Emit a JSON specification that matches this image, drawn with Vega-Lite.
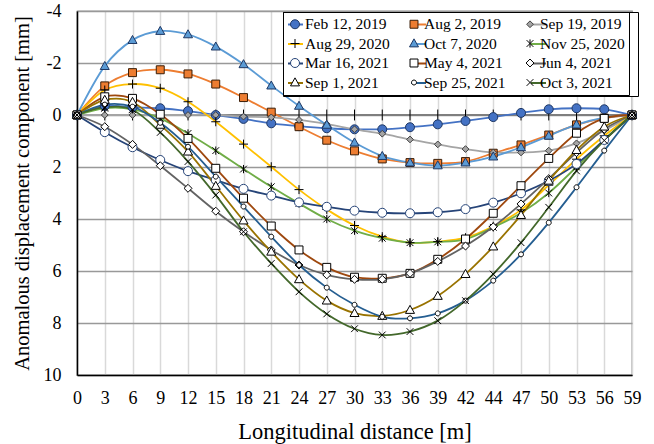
{
  "$schema": "https://vega.github.io/schema/vega-lite/v6.json",
  "width": 555,
  "height": 364,
  "autosize": {"type": "none"},
  "padding": {"left": 77, "top": 11, "right": 22, "bottom": 69},
  "background": "white",
  "config": {
    "view": {"stroke": "#404040", "strokeWidth": 1.2},
    "font": "Liberation Serif",
    "axis": {"labelFont": "Liberation Serif", "titleFont": "Liberation Serif"},
    "legend": {"labelFont": "Liberation Serif", "titleFont": "Liberation Serif"}
  },
  "datasets": {
    "d": [
      {"s":"Feb 12, 2019","x":0,"y":0},{"s":"Feb 12, 2019","x":3,"y":-0.35},{"s":"Feb 12, 2019","x":6,"y":-0.3},{"s":"Feb 12, 2019","x":9,"y":-0.26},{"s":"Feb 12, 2019","x":12,"y":-0.15},{"s":"Feb 12, 2019","x":15,"y":0},{"s":"Feb 12, 2019","x":18,"y":0.15},{"s":"Feb 12, 2019","x":21,"y":0.32},{"s":"Feb 12, 2019","x":24,"y":0.43},{"s":"Feb 12, 2019","x":27,"y":0.51},{"s":"Feb 12, 2019","x":30,"y":0.55},{"s":"Feb 12, 2019","x":33,"y":0.55},{"s":"Feb 12, 2019","x":36,"y":0.47},{"s":"Feb 12, 2019","x":39,"y":0.36},{"s":"Feb 12, 2019","x":42,"y":0.23},{"s":"Feb 12, 2019","x":44,"y":0.08},{"s":"Feb 12, 2019","x":47,"y":-0.08},{"s":"Feb 12, 2019","x":50,"y":-0.22},{"s":"Feb 12, 2019","x":53,"y":-0.26},{"s":"Feb 12, 2019","x":56,"y":-0.22},{"s":"Feb 12, 2019","x":59,"y":0},
      {"s":"Aug 2, 2019","x":0,"y":0},{"s":"Aug 2, 2019","x":3,"y":-1.12},{"s":"Aug 2, 2019","x":6,"y":-1.63},{"s":"Aug 2, 2019","x":9,"y":-1.74},{"s":"Aug 2, 2019","x":12,"y":-1.58},{"s":"Aug 2, 2019","x":15,"y":-1.19},{"s":"Aug 2, 2019","x":18,"y":-0.67},{"s":"Aug 2, 2019","x":21,"y":-0.11},{"s":"Aug 2, 2019","x":24,"y":0.45},{"s":"Aug 2, 2019","x":27,"y":0.97},{"s":"Aug 2, 2019","x":30,"y":1.38},{"s":"Aug 2, 2019","x":33,"y":1.69},{"s":"Aug 2, 2019","x":36,"y":1.83},{"s":"Aug 2, 2019","x":39,"y":1.86},{"s":"Aug 2, 2019","x":42,"y":1.79},{"s":"Aug 2, 2019","x":44,"y":1.47},{"s":"Aug 2, 2019","x":47,"y":1.15},{"s":"Aug 2, 2019","x":50,"y":0.77},{"s":"Aug 2, 2019","x":53,"y":0.38},{"s":"Aug 2, 2019","x":56,"y":0.12},{"s":"Aug 2, 2019","x":59,"y":0},
      {"s":"Sep 19, 2019","x":0,"y":0},{"s":"Sep 19, 2019","x":3,"y":0},{"s":"Sep 19, 2019","x":6,"y":0},{"s":"Sep 19, 2019","x":9,"y":0},{"s":"Sep 19, 2019","x":12,"y":0},{"s":"Sep 19, 2019","x":15,"y":0},{"s":"Sep 19, 2019","x":18,"y":0.06},{"s":"Sep 19, 2019","x":21,"y":0.09},{"s":"Sep 19, 2019","x":24,"y":0.19},{"s":"Sep 19, 2019","x":27,"y":0.35},{"s":"Sep 19, 2019","x":30,"y":0.55},{"s":"Sep 19, 2019","x":33,"y":0.72},{"s":"Sep 19, 2019","x":36,"y":0.94},{"s":"Sep 19, 2019","x":39,"y":1.13},{"s":"Sep 19, 2019","x":42,"y":1.31},{"s":"Sep 19, 2019","x":44,"y":1.44},{"s":"Sep 19, 2019","x":47,"y":1.44},{"s":"Sep 19, 2019","x":50,"y":1.37},{"s":"Sep 19, 2019","x":53,"y":1.09},{"s":"Sep 19, 2019","x":56,"y":0.6},{"s":"Sep 19, 2019","x":59,"y":0},
      {"s":"Aug 29, 2020","x":0,"y":0},{"s":"Aug 29, 2020","x":3,"y":-0.96},{"s":"Aug 29, 2020","x":6,"y":-1.19},{"s":"Aug 29, 2020","x":9,"y":-1.03},{"s":"Aug 29, 2020","x":12,"y":-0.51},{"s":"Aug 29, 2020","x":15,"y":0.26},{"s":"Aug 29, 2020","x":18,"y":1.12},{"s":"Aug 29, 2020","x":21,"y":1.99},{"s":"Aug 29, 2020","x":24,"y":2.87},{"s":"Aug 29, 2020","x":27,"y":3.63},{"s":"Aug 29, 2020","x":30,"y":4.25},{"s":"Aug 29, 2020","x":33,"y":4.68},{"s":"Aug 29, 2020","x":36,"y":4.91},{"s":"Aug 29, 2020","x":39,"y":4.87},{"s":"Aug 29, 2020","x":42,"y":4.72},{"s":"Aug 29, 2020","x":44,"y":4.28},{"s":"Aug 29, 2020","x":47,"y":3.65},{"s":"Aug 29, 2020","x":50,"y":2.7},{"s":"Aug 29, 2020","x":53,"y":1.7},{"s":"Aug 29, 2020","x":56,"y":0.8},{"s":"Aug 29, 2020","x":59,"y":0},
      {"s":"Oct 7, 2020","x":0,"y":0},{"s":"Oct 7, 2020","x":3,"y":-1.88},{"s":"Oct 7, 2020","x":6,"y":-2.88},{"s":"Oct 7, 2020","x":9,"y":-3.23},{"s":"Oct 7, 2020","x":12,"y":-3.1},{"s":"Oct 7, 2020","x":15,"y":-2.63},{"s":"Oct 7, 2020","x":18,"y":-1.95},{"s":"Oct 7, 2020","x":21,"y":-1.13},{"s":"Oct 7, 2020","x":24,"y":-0.35},{"s":"Oct 7, 2020","x":27,"y":0.38},{"s":"Oct 7, 2020","x":30,"y":1.06},{"s":"Oct 7, 2020","x":33,"y":1.58},{"s":"Oct 7, 2020","x":36,"y":1.83},{"s":"Oct 7, 2020","x":39,"y":1.94},{"s":"Oct 7, 2020","x":42,"y":1.83},{"s":"Oct 7, 2020","x":44,"y":1.6},{"s":"Oct 7, 2020","x":47,"y":1.24},{"s":"Oct 7, 2020","x":50,"y":0.8},{"s":"Oct 7, 2020","x":53,"y":0.37},{"s":"Oct 7, 2020","x":56,"y":0.1},{"s":"Oct 7, 2020","x":59,"y":0},
      {"s":"Nov 25, 2020","x":0,"y":0},{"s":"Nov 25, 2020","x":3,"y":-0.26},{"s":"Nov 25, 2020","x":6,"y":-0.22},{"s":"Nov 25, 2020","x":9,"y":0.13},{"s":"Nov 25, 2020","x":12,"y":0.71},{"s":"Nov 25, 2020","x":15,"y":1.37},{"s":"Nov 25, 2020","x":18,"y":2.08},{"s":"Nov 25, 2020","x":21,"y":2.76},{"s":"Nov 25, 2020","x":24,"y":3.4},{"s":"Nov 25, 2020","x":27,"y":4.0},{"s":"Nov 25, 2020","x":30,"y":4.45},{"s":"Nov 25, 2020","x":33,"y":4.74},{"s":"Nov 25, 2020","x":36,"y":4.91},{"s":"Nov 25, 2020","x":39,"y":4.88},{"s":"Nov 25, 2020","x":42,"y":4.78},{"s":"Nov 25, 2020","x":44,"y":4.32},{"s":"Nov 25, 2020","x":47,"y":3.77},{"s":"Nov 25, 2020","x":50,"y":3.0},{"s":"Nov 25, 2020","x":53,"y":2.0},{"s":"Nov 25, 2020","x":56,"y":0.95},{"s":"Nov 25, 2020","x":59,"y":0},
      {"s":"Mar 16, 2021","x":0,"y":0},{"s":"Mar 16, 2021","x":3,"y":0.66},{"s":"Mar 16, 2021","x":6,"y":1.24},{"s":"Mar 16, 2021","x":9,"y":1.73},{"s":"Mar 16, 2021","x":12,"y":2.16},{"s":"Mar 16, 2021","x":15,"y":2.5},{"s":"Mar 16, 2021","x":18,"y":2.84},{"s":"Mar 16, 2021","x":21,"y":3.1},{"s":"Mar 16, 2021","x":24,"y":3.36},{"s":"Mar 16, 2021","x":27,"y":3.53},{"s":"Mar 16, 2021","x":30,"y":3.68},{"s":"Mar 16, 2021","x":33,"y":3.76},{"s":"Mar 16, 2021","x":36,"y":3.78},{"s":"Mar 16, 2021","x":39,"y":3.74},{"s":"Mar 16, 2021","x":42,"y":3.62},{"s":"Mar 16, 2021","x":44,"y":3.37},{"s":"Mar 16, 2021","x":47,"y":3.01},{"s":"Mar 16, 2021","x":50,"y":2.53},{"s":"Mar 16, 2021","x":53,"y":1.88},{"s":"Mar 16, 2021","x":56,"y":0.96},{"s":"Mar 16, 2021","x":59,"y":0},
      {"s":"May 4, 2021","x":0,"y":0},{"s":"May 4, 2021","x":3,"y":-0.7},{"s":"May 4, 2021","x":6,"y":-0.64},{"s":"May 4, 2021","x":9,"y":-0.03},{"s":"May 4, 2021","x":12,"y":0.9},{"s":"May 4, 2021","x":15,"y":2.05},{"s":"May 4, 2021","x":18,"y":3.2},{"s":"May 4, 2021","x":21,"y":4.27},{"s":"May 4, 2021","x":24,"y":5.19},{"s":"May 4, 2021","x":27,"y":5.86},{"s":"May 4, 2021","x":30,"y":6.24},{"s":"May 4, 2021","x":33,"y":6.28},{"s":"May 4, 2021","x":36,"y":6.09},{"s":"May 4, 2021","x":39,"y":5.55},{"s":"May 4, 2021","x":42,"y":4.77},{"s":"May 4, 2021","x":44,"y":3.78},{"s":"May 4, 2021","x":47,"y":2.72},{"s":"May 4, 2021","x":50,"y":1.67},{"s":"May 4, 2021","x":53,"y":0.7},{"s":"May 4, 2021","x":56,"y":0.13},{"s":"May 4, 2021","x":59,"y":0},
      {"s":"Jun 4, 2021","x":0,"y":0},{"s":"Jun 4, 2021","x":3,"y":0.45},{"s":"Jun 4, 2021","x":6,"y":1.13},{"s":"Jun 4, 2021","x":9,"y":1.95},{"s":"Jun 4, 2021","x":12,"y":2.82},{"s":"Jun 4, 2021","x":15,"y":3.7},{"s":"Jun 4, 2021","x":18,"y":4.49},{"s":"Jun 4, 2021","x":21,"y":5.19},{"s":"Jun 4, 2021","x":24,"y":5.77},{"s":"Jun 4, 2021","x":27,"y":6.15},{"s":"Jun 4, 2021","x":30,"y":6.32},{"s":"Jun 4, 2021","x":33,"y":6.32},{"s":"Jun 4, 2021","x":36,"y":6.09},{"s":"Jun 4, 2021","x":39,"y":5.63},{"s":"Jun 4, 2021","x":42,"y":5.04},{"s":"Jun 4, 2021","x":44,"y":4.3},{"s":"Jun 4, 2021","x":47,"y":3.42},{"s":"Jun 4, 2021","x":50,"y":2.45},{"s":"Jun 4, 2021","x":53,"y":1.45},{"s":"Jun 4, 2021","x":56,"y":0.55},{"s":"Jun 4, 2021","x":59,"y":0},
      {"s":"Sep 1, 2021","x":0,"y":0},{"s":"Sep 1, 2021","x":3,"y":-0.58},{"s":"Sep 1, 2021","x":6,"y":-0.5},{"s":"Sep 1, 2021","x":9,"y":0.38},{"s":"Sep 1, 2021","x":12,"y":1.41},{"s":"Sep 1, 2021","x":15,"y":2.73},{"s":"Sep 1, 2021","x":18,"y":4.06},{"s":"Sep 1, 2021","x":21,"y":5.26},{"s":"Sep 1, 2021","x":24,"y":6.32},{"s":"Sep 1, 2021","x":27,"y":7.14},{"s":"Sep 1, 2021","x":30,"y":7.62},{"s":"Sep 1, 2021","x":33,"y":7.73},{"s":"Sep 1, 2021","x":36,"y":7.5},{"s":"Sep 1, 2021","x":39,"y":6.96},{"s":"Sep 1, 2021","x":42,"y":6.12},{"s":"Sep 1, 2021","x":44,"y":5.06},{"s":"Sep 1, 2021","x":47,"y":3.85},{"s":"Sep 1, 2021","x":50,"y":2.53},{"s":"Sep 1, 2021","x":53,"y":1.35},{"s":"Sep 1, 2021","x":56,"y":0.45},{"s":"Sep 1, 2021","x":59,"y":0},
      {"s":"Sep 25, 2021","x":0,"y":0},{"s":"Sep 25, 2021","x":3,"y":-0.4},{"s":"Sep 25, 2021","x":6,"y":-0.32},{"s":"Sep 25, 2021","x":9,"y":0.3},{"s":"Sep 25, 2021","x":12,"y":1.22},{"s":"Sep 25, 2021","x":15,"y":2.37},{"s":"Sep 25, 2021","x":18,"y":3.52},{"s":"Sep 25, 2021","x":21,"y":4.68},{"s":"Sep 25, 2021","x":24,"y":5.77},{"s":"Sep 25, 2021","x":27,"y":6.64},{"s":"Sep 25, 2021","x":30,"y":7.3},{"s":"Sep 25, 2021","x":33,"y":7.76},{"s":"Sep 25, 2021","x":36,"y":7.82},{"s":"Sep 25, 2021","x":39,"y":7.63},{"s":"Sep 25, 2021","x":42,"y":7.14},{"s":"Sep 25, 2021","x":44,"y":6.37},{"s":"Sep 25, 2021","x":47,"y":5.36},{"s":"Sep 25, 2021","x":50,"y":4.14},{"s":"Sep 25, 2021","x":53,"y":2.78},{"s":"Sep 25, 2021","x":56,"y":1.37},{"s":"Sep 25, 2021","x":59,"y":0},
      {"s":"Oct 3, 2021","x":0,"y":0},{"s":"Oct 3, 2021","x":3,"y":-0.3},{"s":"Oct 3, 2021","x":6,"y":-0.2},{"s":"Oct 3, 2021","x":9,"y":0.67},{"s":"Oct 3, 2021","x":12,"y":1.79},{"s":"Oct 3, 2021","x":15,"y":3.08},{"s":"Oct 3, 2021","x":18,"y":4.49},{"s":"Oct 3, 2021","x":21,"y":5.71},{"s":"Oct 3, 2021","x":24,"y":6.8},{"s":"Oct 3, 2021","x":27,"y":7.65},{"s":"Oct 3, 2021","x":30,"y":8.22},{"s":"Oct 3, 2021","x":33,"y":8.46},{"s":"Oct 3, 2021","x":36,"y":8.33},{"s":"Oct 3, 2021","x":39,"y":7.91},{"s":"Oct 3, 2021","x":42,"y":7.14},{"s":"Oct 3, 2021","x":44,"y":6.12},{"s":"Oct 3, 2021","x":47,"y":4.91},{"s":"Oct 3, 2021","x":50,"y":3.55},{"s":"Oct 3, 2021","x":53,"y":2.15},{"s":"Oct 3, 2021","x":56,"y":0.98},{"s":"Oct 3, 2021","x":59,"y":0}
    ]
  },
  "data": {"name": "d"},
  "encoding": {
    "x": {
      "field": "x", "type": "ordinal",
      "scale": {"type": "point", "padding": 0},
      "axis": {
        "title": "Longitudinal distance [m]", "labelAngle": 0, "ticks": false,
        "domainColor": "#000000", "domainWidth": 1.5,
        "grid": true, "gridColor": "#d9d9d9", "gridWidth": 1.5,
        "labelFont": "Liberation Serif", "labelFontSize": 18, "labelColor": "#000000", "labelPadding": 14,
        "titleFont": "Liberation Serif", "titleFontSize": 22.5, "titleFontWeight": "normal", "titleColor": "#000000", "titlePadding": 13
      }
    },
    "y": {
      "field": "y", "type": "quantitative",
      "scale": {"domain": [-4, 10], "reverse": true, "nice": false},
      "axis": {
        "title": "Anomalous displacement component [mm]", "values": [-4, -2, 0, 2, 4, 6, 8, 10], "ticks": false,
        "labelExpr": "datum.value < 0 ? '-' + abs(datum.value) : '' + datum.value",
        "domainColor": "#000000", "domainWidth": 1.5,
        "grid": true, "gridColor": "#999999", "gridWidth": 1.3,
        "labelFont": "Liberation Serif", "labelFontSize": 18, "labelColor": "#000000", "labelPadding": 16,
        "titleFont": "Liberation Serif", "titleFontSize": 20.5, "titleFontWeight": "normal", "titleColor": "#000000", "titlePadding": 11
      }
    }
  },
  "layer": [
    {
      "mark": {"type": "rule", "color": "#7f7f7f", "strokeWidth": 2},
      "encoding": {"x": null, "y": {"datum": 0}}
    },
    {
      "transform": [{"filter": "datum.s === 'Feb 12, 2019'"}],
      "mark": {"type": "rule", "color": "#000000", "strokeWidth": 1},
      "encoding": {"y": {"datum": -0.21}, "y2": {"datum": 0.21}}
    },
    {
      "mark": {"type": "line", "interpolate": "cardinal", "strokeWidth": 1.8},
      "encoding": {
        "color": {
          "field": "s", "type": "nominal",
          "sort": ["Feb 12, 2019","Aug 2, 2019","Sep 19, 2019","Aug 29, 2020","Oct 7, 2020","Nov 25, 2020","Mar 16, 2021","May 4, 2021","Jun 4, 2021","Sep 1, 2021","Sep 25, 2021","Oct 3, 2021"],
          "scale": {
            "range": ["#4472C4","#ED7D31","#A5A5A5","#FFC000","#5B9BD5","#70AD47","#264478","#9E480E","#636363","#997300","#255E91","#43682B"]
          },
          "legend": {
            "title": null, "orient": "none", "legendX": 206, "legendY": 1, "columns": 3, "direction": "horizontal",
            "fillColor": "#ffffff", "strokeColor": "#000000", "padding": 4, "rowPadding": 2.5, "columnPadding": 16,
            "symbolType": "stroke", "symbolSize": 225, "symbolStrokeWidth": 2, "labelOffset": 2,
            "labelFont": "Liberation Serif", "labelFontSize": 15.5, "labelColor": "#000000", "labelOpacity": 0, "labelLimit": 200
          }
        }
      }
    },
    {
      "mark": {"type": "point", "size": 225, "opacity": 1, "strokeWidth": 1, "filled": true},
      "encoding": {
        "shape": {
          "field": "s", "type": "nominal",
          "scale": {
            "domain": ["Feb 12, 2019","Aug 2, 2019","Sep 19, 2019","Aug 29, 2020","Oct 7, 2020","Nov 25, 2020","Mar 16, 2021","May 4, 2021","Jun 4, 2021","Sep 1, 2021","Sep 25, 2021","Oct 3, 2021"],
            "range": [
            "M-0.6,0A0.6,0.6 0 1,0 0.6,0A0.6,0.6 0 1,0 -0.6,0Z",
            "M-0.53,-0.53H0.53V0.53H-0.53Z",
            "M0,-0.45L0.45,0L0,0.45L-0.45,0Z",
            "M-0.6,0H0.6M0,-0.6V0.6",
            "M0,-0.62L0.6,0.45L-0.6,0.45Z",
            "M-0.45,-0.45L0.45,0.45M-0.45,0.45L0.45,-0.45M0,-0.55V0.55",
            "M-0.6,0A0.6,0.6 0 1,0 0.6,0A0.6,0.6 0 1,0 -0.6,0Z",
            "M-0.53,-0.53H0.53V0.53H-0.53Z",
            "M0,-0.53L0.53,0L0,0.53L-0.53,0Z",
            "M0,-0.62L0.6,0.45L-0.6,0.45Z",
            "M-0.33,0A0.33,0.33 0 1,0 0.33,0A0.33,0.33 0 1,0 -0.33,0Z",
            "M-0.45,-0.45L0.45,0.45M-0.45,0.45L0.45,-0.45"
          ]},
          "legend": {
            "title": null, "orient": "none", "legendX": 206, "legendY": 1, "columns": 3, "direction": "horizontal",
            "strokeColor": "#000000", "padding": 4, "rowPadding": 2.5, "columnPadding": 16,
            "symbolSize": 225, "symbolStrokeWidth": 1, "labelOffset": 2,
            "labelFont": "Liberation Serif", "labelFontSize": 15.5, "labelColor": "#000000", "labelLimit": 200
          }
        },
        "fill": {
          "field": "s", "type": "nominal",
          "scale": {
            "domain": ["Feb 12, 2019","Aug 2, 2019","Sep 19, 2019","Aug 29, 2020","Oct 7, 2020","Nov 25, 2020","Mar 16, 2021","May 4, 2021","Jun 4, 2021","Sep 1, 2021","Sep 25, 2021","Oct 3, 2021"],
            "range": ["#4472C4","#ED7D31","#A5A5A5","transparent","#5B9BD5","transparent","#ffffff","#ffffff","#ffffff","#ffffff","#ffffff","transparent"]},
          "legend": {
            "title": null, "orient": "none", "legendX": 206, "legendY": 1, "columns": 3, "direction": "horizontal",
            "strokeColor": "#000000", "padding": 4, "rowPadding": 2.5, "columnPadding": 16,
            "symbolSize": 225, "symbolStrokeWidth": 1, "labelOffset": 2,
            "labelFont": "Liberation Serif", "labelFontSize": 15.5, "labelColor": "#000000", "labelLimit": 200
          }
        },
        "stroke": {
          "field": "s", "type": "nominal",
          "scale": {
            "domain": ["Feb 12, 2019","Aug 2, 2019","Sep 19, 2019","Aug 29, 2020","Oct 7, 2020","Nov 25, 2020","Mar 16, 2021","May 4, 2021","Jun 4, 2021","Sep 1, 2021","Sep 25, 2021","Oct 3, 2021"],
            "range": ["#1f3864","#3a1e08","#404040","#000000","#1f3864","#000000","#264478","#000000","#000000","#000000","#000000","#000000"]},
          "legend": {
            "title": null, "orient": "none", "legendX": 206, "legendY": 1, "columns": 3, "direction": "horizontal",
            "strokeColor": "#000000", "padding": 4, "rowPadding": 2.5, "columnPadding": 16,
            "symbolSize": 225, "symbolStrokeWidth": 1, "labelOffset": 2,
            "labelFont": "Liberation Serif", "labelFontSize": 15.5, "labelColor": "#000000", "labelLimit": 200
          }
        }
      }
    }
  ]
}
